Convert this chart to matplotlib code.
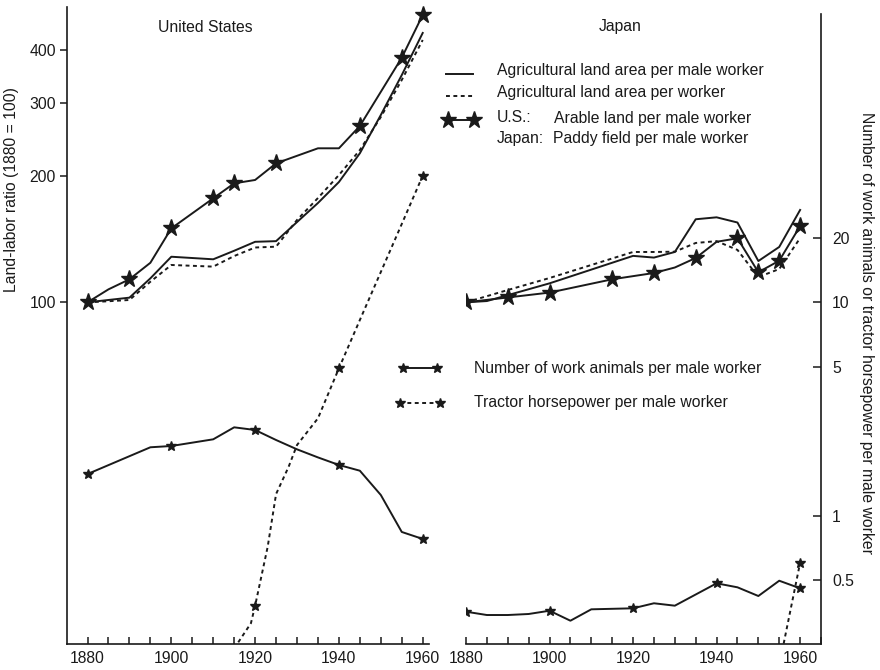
import matplotlib
matplotlib.use("Agg")
import matplotlib.pyplot as plt
from matplotlib.lines import Line2D
from matplotlib.ticker import NullLocator, MultipleLocator
import numpy as np

plt.rcParams['font.family'] = ['Liberation Sans', 'DejaVu Sans']

# ---- United States, land-labor ratios (1880 = 100)
us_years = [1880, 1885, 1890, 1895, 1900, 1910, 1915, 1920, 1925, 1930, 1935, 1940, 1945, 1950, 1955, 1960]
us_land_male = [100, 101.3, 102.6, 114.1, 128.5, 126.7, 132.8, 139.5, 140.0, 155.5, 172.7, 193.8, 227.0, 280.2, 349.0, 440.0]
us_land_all = [100, 100.6, 101.3, 112.0, 122.8, 121.7, 129.0, 135.2, 135.8, 157.3, 177.5, 201.4, 231.1, 277.1, 339.7, 423.3]

us_arable_years = [1880, 1885, 1890, 1895, 1900, 1910, 1915, 1920, 1925, 1935, 1940, 1945, 1955, 1960]
us_arable = [100, 107.4, 113.5, 124.3, 150.2, 177.2, 192.4, 196.0, 214.8, 233.3, 233.3, 263.8, 384.0, 485.8]
us_arable_marks = [0, 2, 4, 5, 6, 8, 11, 12, 13]

# ---- United States, work animals / tractor hp per male worker
us_anim_years = [1880, 1895, 1900, 1910, 1915, 1920, 1925, 1930, 1935, 1940, 1945, 1950, 1955, 1960]
us_animals = [1.572, 2.097, 2.126, 2.285, 2.600, 2.526, 2.268, 2.051, 1.880, 1.733, 1.629, 1.254, 0.842, 0.781]
us_anim_marks = [0, 2, 5, 9, 13]

us_trac_years = [1915, 1919, 1920, 1923, 1925, 1928, 1930, 1935, 1940, 1945, 1950, 1955, 1960]
us_tractor = [0.24, 0.315, 0.3805, 0.718, 1.267, 1.70, 2.149, 2.866, 4.911, 8.264, 13.86, 23.25, 39.12]
us_trac_marks = [2, 8, 12]

# ---- Japan, land-labor ratios (1880 = 100)
jp_land_years = [1880, 1885, 1900, 1920, 1925, 1930, 1935, 1940, 1945, 1950, 1955, 1960]
jp_land_male = [100, 100.7, 111.0, 129.1, 127.9, 131.9, 157.9, 159.6, 155.1, 125.5, 135.6, 166.2]

jp_all_years = [1880, 1890, 1900, 1920, 1925, 1930, 1935, 1940, 1945, 1950, 1955, 1960]
jp_land_all = [100, 107.0, 114.3, 131.9, 131.9, 132.1, 138.6, 140.0, 133.4, 114.9, 120.1, 142.4]

jp_paddy_years = [1880, 1890, 1900, 1915, 1925, 1930, 1935, 1940, 1945, 1950, 1955, 1960]
jp_paddy = [100, 102.7, 105.5, 113.5, 117.5, 121.1, 127.6, 139.5, 142.2, 118.0, 125.7, 152.1]
jp_paddy_marks = [0, 1, 2, 3, 4, 6, 8, 9, 10, 11]

# ---- Japan, work animals / tractor hp per male worker
jp_anim_years = [1880, 1885, 1890, 1895, 1900, 1905, 1910, 1920, 1925, 1930, 1940, 1945, 1950, 1955, 1960]
jp_animals = [0.3566, 0.3441, 0.3441, 0.3479, 0.3604, 0.3236, 0.3659, 0.3699, 0.3905, 0.3805, 0.4842, 0.4638, 0.4223, 0.4979, 0.4588]
jp_anim_marks = [0, 4, 7, 10, 14]

jp_trac_years = [1955, 1960]
jp_tractor = [0.20, 0.6046]

year_ticks = [1880, 1900, 1920, 1940, 1960]
land_ticks = [100, 200, 300, 400]
anim_ticks = [0.5, 1, 5, 10, 20]

INK = '#1a1a1a'
DOT = (0, (2.0, 1.8))
LW = 1.4
BIG = 12.5
SMALL = 7.5

fig = plt.figure(figsize=(8.8, 6.7), dpi=100)

W, H = 880.0, 670.0
def fx(px):
    return px / W
def fy(py):
    return (H - py) / H

# left panel (United States)
ax1 = fig.add_axes([fx(67), fy(644), fx(429) - fx(67), fy(7) - fy(644)])
ax1.set_yscale('log')
ax1.set_xlim(1875.1, 1961.5)
ax1.set_ylim(15.27, 507.5)
ax1b = ax1.twinx()
ax1b.set_yscale('log')
ax1b.set_ylim(0.2518, 240.9)

# right panel (Japan)
ax2 = fig.add_axes([fx(466), fy(644), fx(821) - fx(466), fy(14) - fy(644)])
ax2.set_yscale('log')
ax2.set_xlim(1880, 1965)
ax2.set_ylim(15.27, 488.3)
ax2b = ax2.twinx()
ax2b.set_yscale('log')
ax2b.set_ylim(0.2518, 223.4)

# US lines
ax1.plot(us_years, us_land_male, '-', color=INK, lw=LW)
ax1.plot(us_years, us_land_all, color=INK, lw=LW, ls=DOT)
ax1.plot(us_arable_years, us_arable, '-', color=INK, lw=LW, marker='*', ms=BIG,
         markevery=us_arable_marks, clip_on=False)
ax1b.plot(us_anim_years, us_animals, '-', color=INK, lw=LW, marker='*', ms=SMALL,
          markevery=us_anim_marks)
ax1b.plot(us_trac_years, us_tractor, color=INK, lw=LW, ls=DOT, marker='*', ms=SMALL,
          markevery=us_trac_marks)

# Japan lines
ax2.plot(jp_land_years, jp_land_male, '-', color=INK, lw=LW)
ax2.plot(jp_all_years, jp_land_all, color=INK, lw=LW, ls=DOT)
ax2.plot(jp_paddy_years, jp_paddy, '-', color=INK, lw=LW, marker='*', ms=BIG,
         markevery=jp_paddy_marks)
ax2b.plot(jp_anim_years, jp_animals, '-', color=INK, lw=LW, marker='*', ms=SMALL,
          markevery=jp_anim_marks)
ax2b.plot(jp_trac_years, jp_tractor, color=INK, lw=LW, ls=DOT, marker='*', ms=SMALL,
          markevery=[1])

# axes styling
for a in (ax1, ax1b, ax2, ax2b):
    for s in a.spines.values():
        s.set_visible(False)
        s.set_color(INK)
        s.set_linewidth(1.2)
    a.yaxis.set_minor_locator(NullLocator())

fs = 11.3

for a in (ax1, ax2):
    a.spines['bottom'].set_visible(True)
    a.set_xticks(year_ticks)
    a.set_xticklabels([str(y) for y in year_ticks])
    a.xaxis.set_minor_locator(MultipleLocator(5))
    a.tick_params(axis='x', which='both', direction='in', length=5, width=1.1,
                  colors=INK, labelsize=fs, pad=5)

ax1.spines['left'].set_visible(True)
ax1.set_yticks(land_ticks)
ax1.set_yticklabels([str(v) for v in land_ticks])
ax1.yaxis.set_minor_locator(NullLocator())
ax1.tick_params(axis='y', which='major', direction='out', length=5, width=1.1,
                colors=INK, labelsize=fs, pad=3)
ax1b.set_yticks([])
ax1b.yaxis.set_minor_locator(NullLocator())

ax2.set_yticks([])
ax2.yaxis.set_minor_locator(NullLocator())
ax2b.spines['right'].set_visible(True)
ax2b.set_yticks(anim_ticks)
ax2b.set_yticklabels(['0.5', '1', '5', '10', '20'])
ax2b.yaxis.set_minor_locator(NullLocator())
ax2b.tick_params(axis='y', which='major', direction='in', length=6, width=1.1,
                 colors=INK, labelsize=fs, pad=8)

# titles and axis labels
fig.text(fx(205), fy(27), 'United States', ha='center', va='center', fontsize=fs, color=INK)
fig.text(fx(620), fy(27), 'Japan', ha='center', va='center', fontsize=fs, color=INK)
fig.text(fx(12), fy(190), 'Land-labor ratio (1880 = 100)', rotation=90,
         ha='center', va='center', fontsize=fs, color=INK)
fig.text(fx(866), fy(333), 'Number of work animals or tractor horsepower per male worker',
         rotation=270, ha='center', va='center', fontsize=fs, color=INK)

# legend 1 (land)
def key(x0, x1, y, ls='-', marker=None, ms=0):
    fig.add_artist(Line2D([fx(x0), fx(x1)], [fy(y), fy(y)], transform=fig.transFigure,
                          color=INK, lw=LW, ls=ls, marker=marker, ms=ms))

key(446, 473, 74)
key(446, 473, 96, ls=DOT)
key(448, 474, 120, marker='*', ms=BIG)
fig.text(fx(497), fy(70), 'Agricultural land area per male worker', va='center', fontsize=fs, color=INK)
fig.text(fx(497), fy(93), 'Agricultural land area per worker', va='center', fontsize=fs, color=INK)
fig.text(fx(497), fy(118), 'U.S.:', va='center', fontsize=fs, color=INK)
fig.text(fx(554), fy(118), 'Arable land per male worker', va='center', fontsize=fs, color=INK)
fig.text(fx(497), fy(139), 'Japan:', va='center', fontsize=fs, color=INK)
fig.text(fx(553), fy(139), 'Paddy field per male worker', va='center', fontsize=fs, color=INK)

# legend 2 (power)
key(403, 437, 368, marker='*', ms=SMALL)
key(400, 440, 403, ls=DOT, marker='*', ms=SMALL)
fig.text(fx(474), fy(368), 'Number of work animals per male worker', va='center', fontsize=fs, color=INK)
fig.text(fx(474), fy(403), 'Tractor horsepower per male worker', va='center', fontsize=fs, color=INK)

fig.savefig('out.png', dpi=100)
